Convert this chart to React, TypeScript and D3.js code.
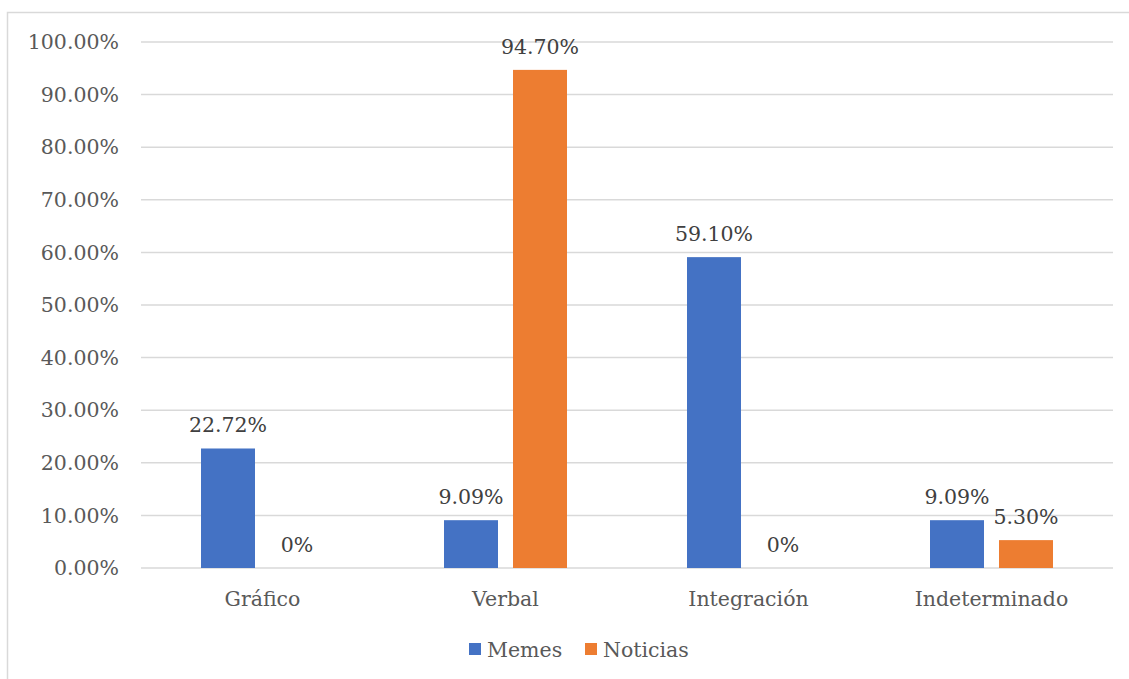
import { useEffect, useRef } from 'react';
import * as d3 from 'd3';

const categories = ['Gráfico', 'Verbal', 'Integración', 'Indeterminado'];
const seriesNames = ['Memes', 'Noticias'];
const memesValues = [22.72, 9.09, 59.1, 9.09];
const noticiasValues = [0, 94.7, 0, 5.3];
const valueLabels = [
    ['22.72%', '9.09%', '59.10%', '9.09%'],
    ['0%', '94.70%', '0%', '5.30%'],
];
const yTicks = [0, 10, 20, 30, 40, 50, 60, 70, 80, 90, 100];

const COLORS = ['#4472c4', '#ed7d31'];
const FONT = "'DejaVu Serif', Georgia, serif";
const FONT_SIZE = 20.5;

export default function App() {
    const svgRef = useRef<SVGSVGElement | null>(null);

    useEffect(() => {
        if (!svgRef.current) {
            return;
        }
        const svg = d3.select(svgRef.current);
        svg.selectAll('*').remove();

        const width = 1129;
        const height = 679;
        const plot = { left: 141, right: 1113, top: 42, bottom: 568 };

        // chart area frame (only top and left edges are visible in the crop)
        svg.append('path')
            .attr('d', `M7.5,${height} V12.5 H${width}`)
            .attr('fill', 'none')
            .attr('stroke', '#d9d9d9')
            .attr('stroke-width', 1.5);

        const x = d3.scaleBand<string>().domain(categories).range([plot.left, plot.right]);
        const y = d3.scaleLinear().domain([0, 100]).range([plot.bottom, plot.top]);

        const barWidth = 54;
        const gap = 15;

        svg.append('g')
            .selectAll('line')
            .data(yTicks)
            .join('line')
            .attr('x1', plot.left)
            .attr('x2', plot.right)
            .attr('y1', (d) => y(d))
            .attr('y2', (d) => y(d))
            .attr('stroke', '#d9d9d9')
            .attr('stroke-width', 1.5);

        svg.append('g')
            .selectAll('text')
            .data(yTicks)
            .join('text')
            .attr('x', 119)
            .attr('y', (d) => y(d))
            .attr('dy', '0.35em')
            .attr('text-anchor', 'end')
            .attr('font-family', FONT)
            .attr('font-size', FONT_SIZE)
            .attr('fill', '#595959')
            .text((d) => `${d.toFixed(2)}%`);

        const series = [memesValues, noticiasValues];
        series.forEach((values, si) => {
            const g = svg.append('g');
            const barX = (cat: string) => {
                const center = (x(cat) ?? 0) + x.bandwidth() / 2;
                return si === 0 ? center - gap / 2 - barWidth : center + gap / 2;
            };
            g.selectAll('rect')
                .data(values)
                .join('rect')
                .attr('x', (_, i) => barX(categories[i]))
                .attr('y', (d) => y(d))
                .attr('width', barWidth)
                .attr('height', (d) => y(0) - y(d))
                .attr('fill', COLORS[si]);

            g.selectAll('text')
                .data(values)
                .join('text')
                .attr('x', (_, i) => barX(categories[i]) + barWidth / 2)
                .attr('y', (d) => y(d) - 16)
                .attr('text-anchor', 'middle')
                .attr('font-family', FONT)
                .attr('font-size', FONT_SIZE)
                .attr('fill', '#404040')
                .text((_, i) => valueLabels[si][i]);
        });

        svg.append('g')
            .selectAll('text')
            .data(categories)
            .join('text')
            .attr('x', (d) => (x(d) ?? 0) + x.bandwidth() / 2)
            .attr('y', 606)
            .attr('text-anchor', 'middle')
            .attr('font-family', FONT)
            .attr('font-size', FONT_SIZE)
            .attr('fill', '#595959')
            .text((d) => d);

        const legendX = [469, 585];
        seriesNames.forEach((name, i) => {
            svg.append('rect')
                .attr('x', legendX[i])
                .attr('y', 643)
                .attr('width', 12)
                .attr('height', 12)
                .attr('fill', COLORS[i]);
            svg.append('text')
                .attr('x', legendX[i] + 18)
                .attr('y', 657)
                .attr('font-family', FONT)
                .attr('font-size', FONT_SIZE)
                .attr('fill', '#595959')
                .text(name);
        });
    }, []);

    return (
        <svg
            ref={svgRef}
            width={1129}
            height={679}
            style={{ position: 'absolute', left: 0, top: 0, background: '#fff' }}
        />
    );
}
